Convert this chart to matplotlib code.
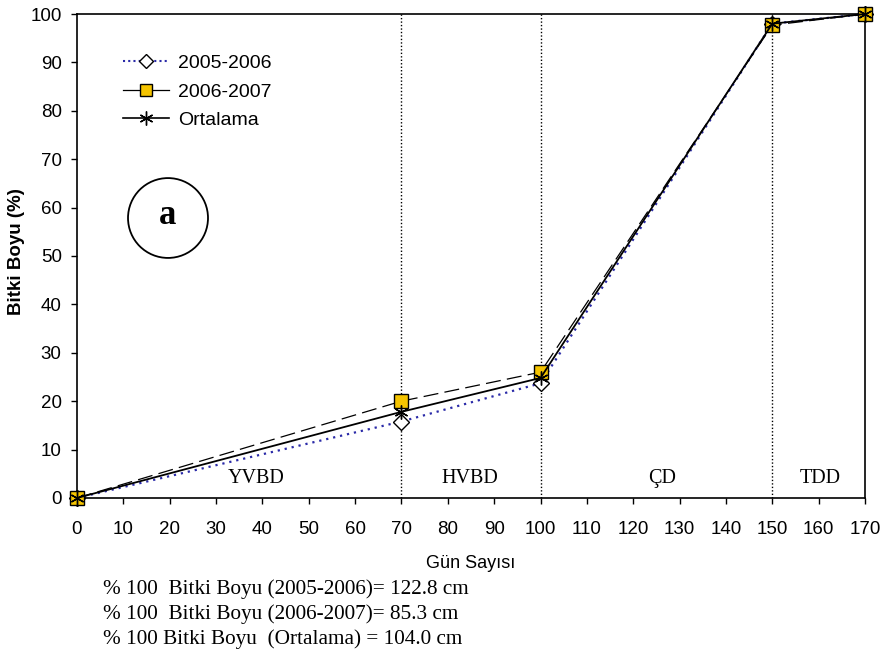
import matplotlib
matplotlib.use("Agg")
import matplotlib.pyplot as plt
from matplotlib.lines import Line2D
from matplotlib.patches import Ellipse

plt.rcParams['font.family'] = ['Liberation Sans', 'DejaVu Sans']

days = [0, 70, 100, 150, 170]
boy_2005_2006 = [0, 15.8, 23.7, 98.0, 100]
boy_2006_2007 = [0, 20.0, 26.0, 97.7, 100]
boy_ortalama = [0, 17.8, 24.8, 98.0, 100]

phase_bounds = [70, 100, 150]
phase_names = ["YVBD", "HVBD", "ÇD", "TDD"]
phase_centers = [38.6, 84.8, 126.2, 160.3]

notes = [
    "% 100  Bitki Boyu (2005-2006)= 122.8 cm",
    "% 100  Bitki Boyu (2006-2007)= 85.3 cm",
    "% 100 Bitki Boyu  (Ortalama) = 104.0 cm",
]

fig = plt.figure(figsize=(8.88, 6.58), dpi=100)
ax = fig.add_axes([0.0867, 0.2432, 0.8874, 0.7355])

navy = "#2a2aa8"
gold = "#f5c400"

ax.plot(days, boy_2006_2007, color="black", lw=0.9, dashes=(12, 5),
        marker="s", ms=10, mfc=gold, mec="black", mew=1.0, zorder=3,
        clip_on=False)
ax.plot(days, boy_ortalama, color="black", lw=1.3,
        marker=(6, 2, 0), ms=10, mec="black", mew=1.0, zorder=4,
        clip_on=False)
ax.plot(days, boy_2005_2006, color=navy, lw=1.6, ls=(0, (1, 2.2)),
        marker="D", ms=8, mfc="white", mec="black", mew=1.0, zorder=2,
        clip_on=False)

for b in phase_bounds:
    ax.axvline(b, color="black", ls=(0, (1, 1.5)), lw=1.0, zorder=1)

for name, cx in zip(phase_names, phase_centers):
    ax.text(cx, 2.0, name, ha="center", va="bottom", fontsize=14.5,
            family="Liberation Serif")

ax.set_xlim(0, 170)
ax.set_ylim(0, 100)
ax.set_xticks(range(0, 171, 10))
ax.set_yticks(range(0, 101, 10))
ax.tick_params(labelsize=13.5, length=4.5, width=1, direction="out")
ax.tick_params(axis="x", pad=12)
ax.tick_params(axis="y", pad=6.5)
for s in ax.spines.values():
    s.set_linewidth(1.2)

ax.set_xlabel("Gün Sayısı", fontsize=13, va="top")
ax.xaxis.set_label_coords(0.5, -0.118)
fig.text(17 / 888, 1 - 252 / 658, "Bitki Boyu (%)", rotation=90,
         ha="center", va="center", fontsize=13.5, fontweight="bold")

handles = [
    Line2D([], [], color=navy, lw=1.5, ls=(0, (1, 1.5)), marker="D", ms=7,
           mfc="white", mec="black"),
    Line2D([], [], color="black", lw=0.9, marker="s", ms=9, mfc=gold, mec="black"),
    Line2D([], [], color="black", lw=1.2, marker=(6, 2, 0), ms=10, mec="black"),
]
ax.legend(handles, ["2005-2006", "2006-2007", "Ortalama"], loc="upper left",
          bbox_to_anchor=(0.058, 0.916), frameon=False, fontsize=14,
          borderaxespad=0, borderpad=0,
          handlelength=2.4, handletextpad=0.45, labelspacing=0.56)

# circled panel letter
circ = Ellipse((0.1155, 0.5785), 0.1015, 0.165, transform=ax.transAxes,
               fill=False, lw=1.3, ec="black")
ax.add_patch(circ)
ax.text(0.1155, 0.583, "a", transform=ax.transAxes, ha="center", va="center",
        fontsize=25, fontweight="bold", family="Liberation Serif")

for i, line in enumerate(notes):
    fig.text(0.116, 1 - (589 + 25 * i) / 658, line, fontsize=15.3,
             family="Liberation Serif", va="center")

fig.savefig("out.png", dpi=100)
